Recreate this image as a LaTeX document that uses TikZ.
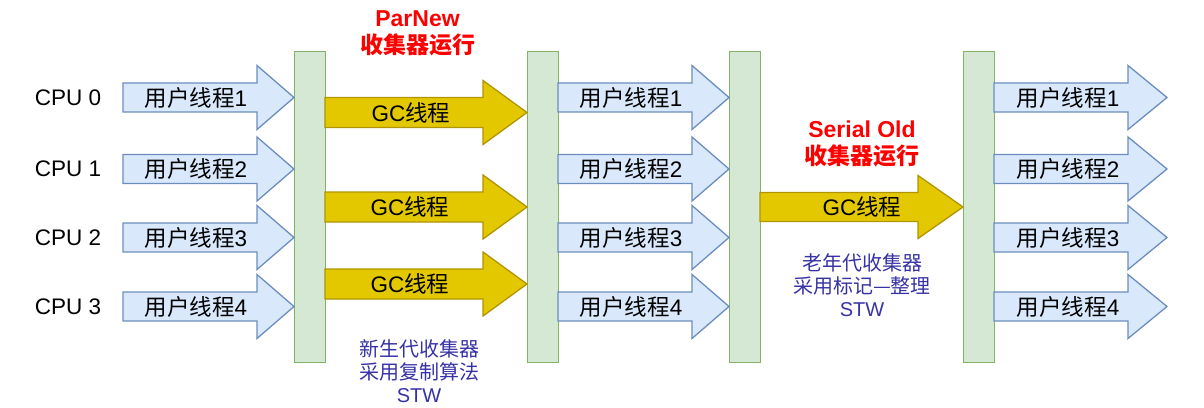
\documentclass[tikz,border=0pt]{standalone}
\usepackage{fontspec}
\setmainfont{Liberation Sans}
\newfontfamily\cjk{Noto Sans CJK SC}
\definecolor{bluefill}{HTML}{DAE8FC}
\definecolor{bluedraw}{HTML}{6C8EBF}
\definecolor{greenfill}{HTML}{D5E8D4}
\definecolor{greendraw}{HTML}{82B366}
\definecolor{yelfill}{HTML}{E3C800}
\definecolor{yeldraw}{HTML}{B09500}
\definecolor{notecol}{RGB}{55,50,165}
\newcommand{\blkarrow}[7]{%
  \draw[#1] (#2,#5-#6) -- (#3,#5-#6) -- (#3,#5-#7) -- (#4,#5) -- (#3,#5+#7) -- (#3,#5+#6) -- (#2,#5+#6) -- cycle;}
\tikzset{
  userarrow/.style={fill=bluefill,draw=bluedraw,line width=1.3pt,line join=miter},
  gcarrow/.style={fill=yelfill,draw=yeldraw,line width=1.3pt,line join=miter},
  barbox/.style={fill=greenfill,draw=greendraw,line width=1.3pt},
  lbl/.style={inner sep=0pt,font=\fontsize{22.5}{26}\selectfont},
  title/.style={inner sep=0pt,align=center,text=red,font=\fontsize{23}{27}\selectfont\bfseries},
  note/.style={inner sep=0pt,align=center,text=notecol,font=\fontsize{20}{23}\selectfont},
}
\begin{document}
\begin{tikzpicture}[x=1pt,y=-1pt]
\useasboundingbox (0,0) rectangle (1204,407);
% bars
\node[barbox,minimum width=31pt,minimum height=311pt,inner sep=0pt,anchor=north west] (bar1) at (294,51) {};
\node[barbox,minimum width=31pt,minimum height=311pt,inner sep=0pt,anchor=north west] (bar2) at (527,51) {};
\node[barbox,minimum width=31pt,minimum height=311pt,inner sep=0pt,anchor=north west] (bar3) at (729,51) {};
\node[barbox,minimum width=31pt,minimum height=311pt,inner sep=0pt,anchor=north west] (bar4) at (963,51) {};
% user thread arrows
\foreach \yy in {97.5,169,237.5,306.5}{
  \blkarrow{userarrow}{123}{257}{294}{\yy}{14.5}{32}
  \blkarrow{userarrow}{558}{692}{729}{\yy}{14.5}{32}
  \blkarrow{userarrow}{994}{1128}{1167}{\yy}{14.5}{32}
}
% GC arrows
\blkarrow{gcarrow}{325}{483}{527}{112.5}{15}{32}
\blkarrow{gcarrow}{325}{483}{527}{207}{15}{32}
\blkarrow{gcarrow}{325}{483}{527}{284}{15}{32}
\blkarrow{gcarrow}{760}{918}{963}{207}{14.5}{31.5}
% CPU labels
\node[lbl] (cpu0) at (68,97.5) {CPU 0};
\node[lbl] (cpu1) at (68,169) {CPU 1};
\node[lbl] (cpu2) at (68,237.5) {CPU 2};
\node[lbl] (cpu3) at (68,306.5) {CPU 3};
% user thread labels
\node[lbl] (ua1) at (196,97.5) {{\cjk 用户线程}1};
\node[lbl] (ua2) at (196,169) {{\cjk 用户线程}2};
\node[lbl] (ua3) at (196,237.5) {{\cjk 用户线程}3};
\node[lbl] (ua4) at (196,306.5) {{\cjk 用户线程}4};
\node[lbl] (ub1) at (631,97.5) {{\cjk 用户线程}1};
\node[lbl] (ub2) at (631,169) {{\cjk 用户线程}2};
\node[lbl] (ub3) at (631,237.5) {{\cjk 用户线程}3};
\node[lbl] (ub4) at (631,306.5) {{\cjk 用户线程}4};
\node[lbl] (uc1) at (1068,97.5) {{\cjk 用户线程}1};
\node[lbl] (uc2) at (1068,169) {{\cjk 用户线程}2};
\node[lbl] (uc3) at (1068,237.5) {{\cjk 用户线程}3};
\node[lbl] (uc4) at (1068,306.5) {{\cjk 用户线程}4};
% GC labels
\node[lbl] (gc1) at (411,112.5) {GC{\cjk 线程}};
\node[lbl] (gc2) at (410,207) {GC{\cjk 线程}};
\node[lbl] (gc3) at (410,284) {GC{\cjk 线程}};
\node[lbl] (gc4) at (862,207) {GC{\cjk 线程}};
% titles
\node[title] (t1) at (417.5,33.5) {ParNew\\{\cjk 收集器运行}};
\node[title] (t2) at (862,144) {Serial Old\\{\cjk 收集器运行}};
% notes
\node[note] (n1) at (419,371.5) {{\cjk 新生代收集器}\\{\cjk 采用复制算法}\\STW};
\node[note] (n2) at (862,285) {{\cjk 老年代收集器}\\{\cjk 采用标记—整理}\\STW};
\end{tikzpicture}
\end{document}
